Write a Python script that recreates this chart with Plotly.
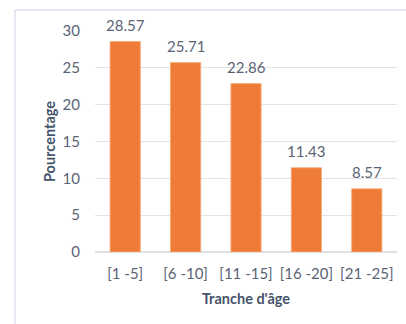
import plotly.graph_objects as go

# Age groups and share of respondents (%)
tranches = ["[1 -5]", "[6 -10]", "[11 -15]", "[16 -20]", "[21 -25]"]
pourcentages = [28.57, 25.71, 22.86, 11.43, 8.57]

W, H = 406, 324
L, R, T, B = 95, 9, 31, 72
pw, ph = W - L - R, H - T - B

def px_to_paper_x(px):
    return (px - L) / pw

def px_to_paper_y(py):
    return (H - B - py) / ph

TICK = "#5B6475"
TITLE = "#44546A"

fig = go.Figure()
fig.add_trace(go.Bar(
    x=tranches,
    y=pourcentages,
    marker=dict(color="#EE7C36", line=dict(color="#F6A877", width=0.8)),
    width=0.5,
    hoverinfo="x+y",
))

# value labels above each bar
for cat, v in zip(tranches, pourcentages):
    fig.add_annotation(
        x=cat, y=v, text=f"{v:.2f}", showarrow=False,
        yanchor="bottom", yshift=6,
        font=dict(family="Lato", size=15, color=TICK),
    )

# thin frame along the top and left of the chart area
frame = "#DFDFEC"
fig.add_shape(type="line", xref="paper", yref="paper",
              x0=px_to_paper_x(15), x1=px_to_paper_x(W + 5),
              y0=px_to_paper_y(10), y1=px_to_paper_y(10),
              line=dict(color=frame, width=1.5))
fig.add_shape(type="line", xref="paper", yref="paper",
              x0=px_to_paper_x(15), x1=px_to_paper_x(15),
              y0=px_to_paper_y(10), y1=px_to_paper_y(H + 5),
              line=dict(color=frame, width=1.5))

fig.update_layout(
    width=W, height=H,
    margin=dict(l=L, r=R, t=T, b=B, autoexpand=False),
    paper_bgcolor="white", plot_bgcolor="white",
    showlegend=False,
    bargap=0.5,
    font=dict(family="Lato", size=15, color=TICK),
    xaxis=dict(
        showgrid=False, showline=False, ticks="", ticklabelstandoff=11,
        tickfont=dict(family="Lato", size=15, color=TICK),
        title=dict(text="Tranche d'âge", standoff=12,
                   font=dict(family="Lato", size=14.5, color=TITLE, weight="bold")),
    ),
    yaxis=dict(
        range=[0, 30], dtick=5,
        showgrid=True, gridcolor="#E3E3E3", gridwidth=1,
        zeroline=True, zerolinecolor="#E0E0E6", zerolinewidth=1.5,
        showline=False, ticks="", ticklabelstandoff=14,
        tickfont=dict(family="Lato", size=15, color=TICK),
        title=dict(text="Pourcentage", standoff=3,
                   font=dict(family="Lato", size=14.5, color=TITLE, weight="bold")),
    ),
)

fig.write_html("out.html")
